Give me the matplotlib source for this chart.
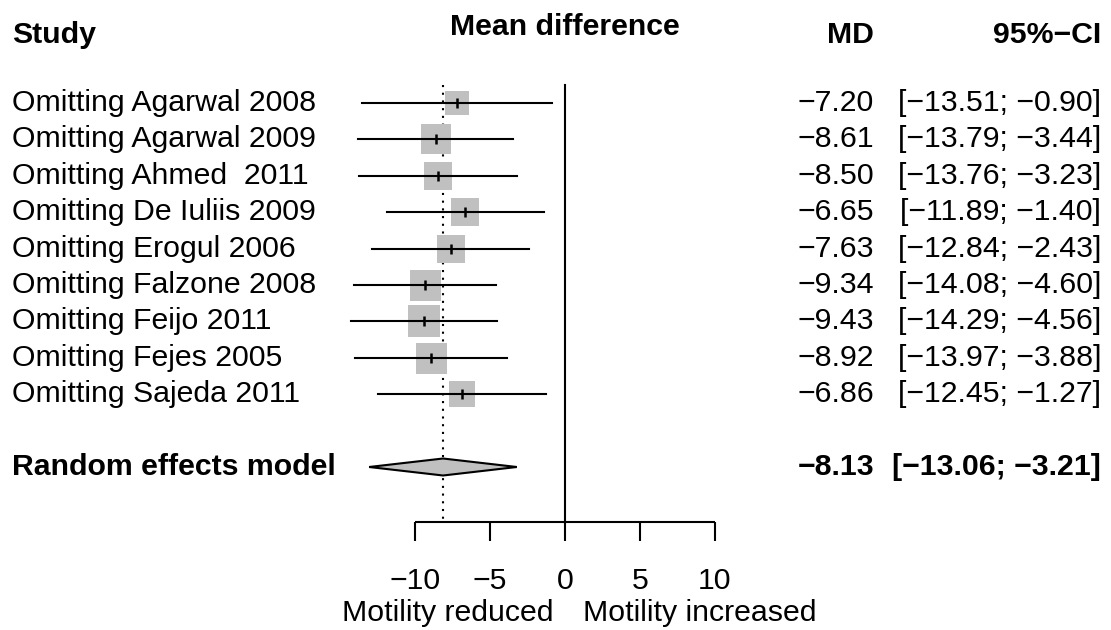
import numpy as np
import matplotlib
matplotlib.use('Agg')
import matplotlib.pyplot as plt
from matplotlib.patches import Polygon

STUDIES = [
	'Omitting Agarwal 2008',
	'Omitting Agarwal 2009',
	'Omitting Ahmed  2011',
	'Omitting De Iuliis 2009',
	'Omitting Erogul 2006',
	'Omitting Falzone 2008',
	'Omitting Feijo 2011',
	'Omitting Fejes 2005',
	'Omitting Sajeda 2011',
]
MD = [-7.20, -8.61, -8.50, -6.65, -7.63, -9.34, -9.43, -8.92, -6.86]
LOWER = [-13.51, -13.79, -13.76, -11.89, -12.84, -14.08, -14.29, -13.97, -12.45]
UPPER = [-0.90, -3.44, -3.23, -1.40, -2.43, -4.60, -4.56, -3.88, -1.27]
# relative weights (square area)
WEIGHTS = [64, 93, 81, 87, 87, 100, 107, 100, 75]

POOLED_LABEL = 'Random effects model'
POOLED = -8.13
POOLED_LO = -13.06
POOLED_HI = -3.21

TICKS = [-10, -5, 0, 5, 10]

W, H = 1111, 630
X0, XSCALE = 565, 15.0      # pixel of MD = 0, pixels per unit
Y0, YSTEP = 103, 36.4       # pixel of first row, pixels per row

def col(px):
	return (px - X0) / XSCALE

def fmt(v):
	return '{:.2f}'.format(v).replace('-', '\u2212')

plt.rcParams['font.family'] = ['Liberation Sans', 'DejaVu Sans']
FS = 21.8
LW = 1.5

fig = plt.figure(figsize=(W / 100, H / 100), dpi=100)
ax = fig.add_axes([0, 0, 1, 1])
ax.set_xlim(col(0), col(W))
ax.set_ylim((H - Y0) / YSTEP, -Y0 / YSTEP)
ax.axis('off')

pooled_row = len(STUDIES) + 1
axis_row = pooled_row + 1.5
top_row = -0.49

# reference lines
ax.plot([0, 0], [top_row, axis_row], color='black', lw=LW)
ax.plot([POOLED, POOLED], [top_row, axis_row], color='black', lw=1.5,
		linestyle=(0, (1, 2.7)))

# study rows
for i, name in enumerate(STUDIES):
	side = 31 * np.sqrt(WEIGHTS[i] / 100.0)
	ax.plot(MD[i], i, marker='s', ms=side * 0.72, color='#c0c0c0',
			markeredgewidth=0, zorder=2)
	ax.plot([LOWER[i], UPPER[i]], [i, i], color='black', lw=LW, zorder=3)
	ax.plot(MD[i], i, marker='|', ms=7.5, mew=1.8, color='black', zorder=4)
	ax.text(col(12), i, name, fontsize=FS, ha='left', va='center')
	ax.text(col(874), i, fmt(MD[i]), fontsize=FS, ha='right', va='center')
	ax.text(col(1101), i, '[{}; {}]'.format(fmt(LOWER[i]), fmt(UPPER[i])),
			fontsize=FS, ha='right', va='center')

# pooled estimate
h = 8.5 / YSTEP
diamond = Polygon([(POOLED_LO, pooled_row), (POOLED, pooled_row - h),
				   (POOLED_HI, pooled_row), (POOLED, pooled_row + h)],
				  closed=True, facecolor='#c0c0c0', edgecolor='black', lw=LW, zorder=3)
ax.add_patch(diamond)
ax.text(col(12), pooled_row, POOLED_LABEL, fontsize=FS, fontweight='bold',
		ha='left', va='center')
ax.text(col(874), pooled_row, fmt(POOLED), fontsize=FS, fontweight='bold',
		ha='right', va='center')
ax.text(col(1101), pooled_row, '[{}; {}]'.format(fmt(POOLED_LO), fmt(POOLED_HI)),
		fontsize=FS, fontweight='bold', ha='right', va='center')

# headers
hdr = -1.88
ax.text(col(12), hdr, 'Study', fontsize=FS, fontweight='bold', ha='left', va='center')
ax.text(0, hdr - 0.22, 'Mean difference', fontsize=FS, fontweight='bold',
		ha='center', va='center')
ax.text(col(874), hdr, 'MD', fontsize=FS, fontweight='bold', ha='right', va='center')
ax.text(col(1101), hdr, '95%\u2212CI', fontsize=FS, fontweight='bold',
		ha='right', va='center')

# x axis
tick_len = 0.52
ax.plot([TICKS[0], TICKS[-1]], [axis_row, axis_row], color='black', lw=LW,
		solid_capstyle='butt')
for t in TICKS:
	ax.plot([t, t], [axis_row, axis_row + tick_len], color='black', lw=LW,
			solid_capstyle='butt')
	ax.text(t, axis_row + 1.62, str(t).replace('-', '\u2212'), fontsize=FS,
			ha='center', va='center')
ax.text(col(553), axis_row + 2.5, 'Motility reduced', fontsize=FS,
		ha='right', va='center')
ax.text(col(583), axis_row + 2.5, 'Motility increased', fontsize=FS,
		ha='left', va='center')

fig.savefig('out.png', dpi=100)
